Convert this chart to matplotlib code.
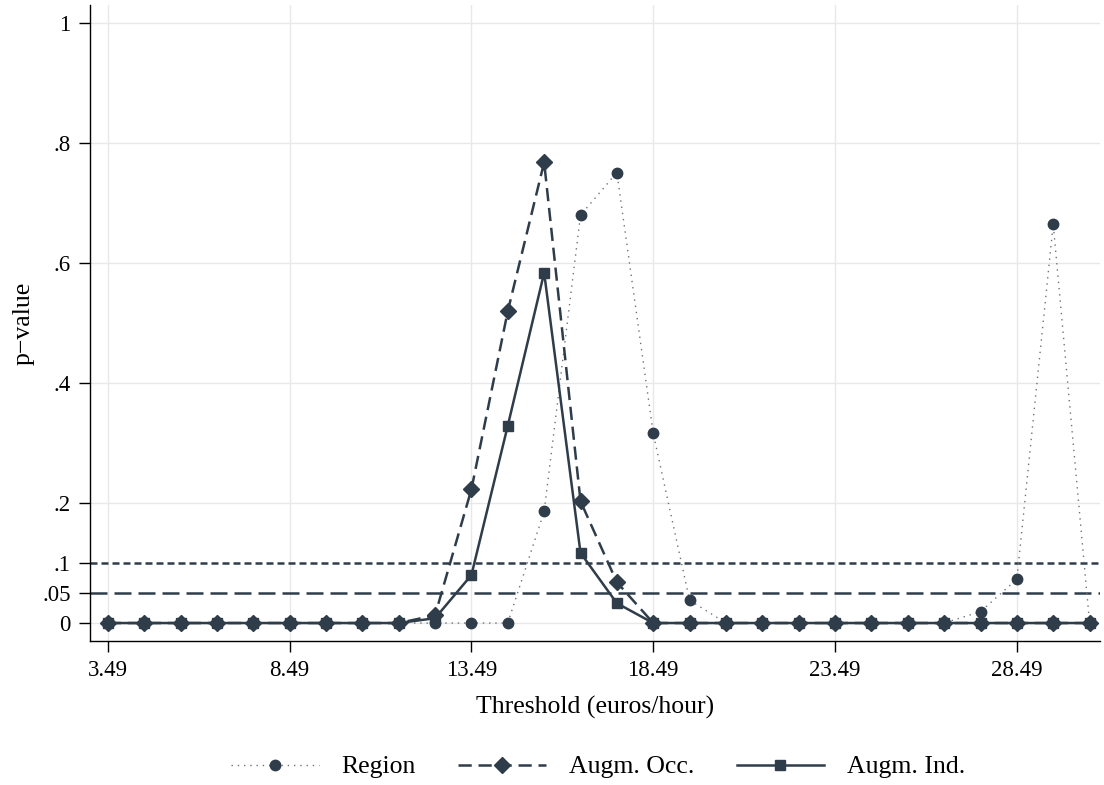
import numpy as np
import matplotlib
matplotlib.use("Agg")
import matplotlib.pyplot as plt

plt.rcParams["font.family"] = ["Liberation Serif", "DejaVu Serif"]

# thresholds tested, in euros per hour
thresholds = np.arange(3.49, 30.5, 1.0)

# p-values by threshold for each specification
p_region = [0, 0, 0, 0, 0, 0, 0, 0, 0, 0, 0, 0,
            0.186, 0.680, 0.751, 0.316, 0.038,
            0, 0, 0, 0, 0, 0, 0, 0.019, 0.073, 0.665, 0]
p_occ = [0, 0, 0, 0, 0, 0, 0, 0, 0, 0.013, 0.223, 0.520,
         0.768, 0.203, 0.068, 0, 0,
         0, 0, 0, 0, 0, 0, 0, 0, 0, 0, 0]
p_ind = [0, 0, 0, 0, 0, 0, 0, 0, 0, 0.008, 0.080, 0.329,
         0.584, 0.117, 0.033, 0, 0,
         0, 0, 0, 0, 0, 0, 0, 0, 0, 0, 0]

xticks = [3.49, 8.49, 13.49, 18.49, 23.49, 28.49]
yticks = [0, 0.05, 0.1, 0.2, 0.4, 0.6, 0.8, 1]
ylabels = ["0", ".05", ".1", ".2", ".4", ".6", ".8", "1"]

col = "#2f3d4a"
fs = 16.5   # tick labels
fs2 = 18.5  # titles and legend
lw = 1.8

fig = plt.figure(figsize=(11.04, 7.85), dpi=100)
ax = fig.add_axes([0.0815, 0.1834, 0.915, 0.810])

# grid
for x in xticks:
    ax.axvline(x, color="#e8e8e8", lw=1, zorder=0)
for y in [0, 0.2, 0.4, 0.6, 0.8, 1]:
    ax.axhline(y, color="#e8e8e8", lw=1, zorder=0)

# significance reference lines
ax.axhline(0.1, color=col, lw=lw, dashes=(2.8, 1.6), zorder=1)
ax.axhline(0.05, color=col, lw=lw, dashes=(6.8, 2.8), zorder=1)

ax.plot(thresholds, p_region, color="#6b737b", lw=1.0, ls=(0, (1, 3.5)),
        marker="o", ms=7.5, mfc=col, mec=col, label="Region", zorder=3)
ax.plot(thresholds, p_occ, color=col, lw=lw, dashes=(5.3, 2.7),
        marker="D", ms=8, mfc=col, mec=col, label="Augm. Occ.", zorder=4)
ax.plot(thresholds, p_ind, color=col, lw=lw, ls="-",
        marker="s", ms=7.5, mfc=col, mec=col, label="Augm. Ind.", zorder=5)

ax.set_xlim(3.0, 30.78)
ax.set_ylim(-0.03, 1.03)
ax.set_xticks(xticks)
ax.set_xticklabels([f"{x:.2f}" for x in xticks])
ax.set_yticks(yticks)
ax.set_yticklabels(ylabels)
ax.tick_params(axis="both", direction="out", length=8, width=1, color="black",
               labelsize=fs, pad=6)

for s in ["top", "right"]:
    ax.spines[s].set_visible(False)
for s in ["left", "bottom"]:
    ax.spines[s].set_linewidth(1.0)

ax.set_xlabel("Threshold (euros/hour)", fontsize=fs2, va="center")
ax.xaxis.set_label_coords(0.5, -0.105)
ax.set_ylabel("p\u2212value", fontsize=fs2, va="center")
ax.yaxis.set_label_coords(-0.066, 0.5)

fig.legend(loc="center", bbox_to_anchor=(0.542, 1 - 767 / 785), ncol=3,
           frameon=False, fontsize=fs2, handlelength=3.4, handletextpad=0.9,
           columnspacing=1.65, borderpad=0)

fig.savefig("out.png", dpi=100)
